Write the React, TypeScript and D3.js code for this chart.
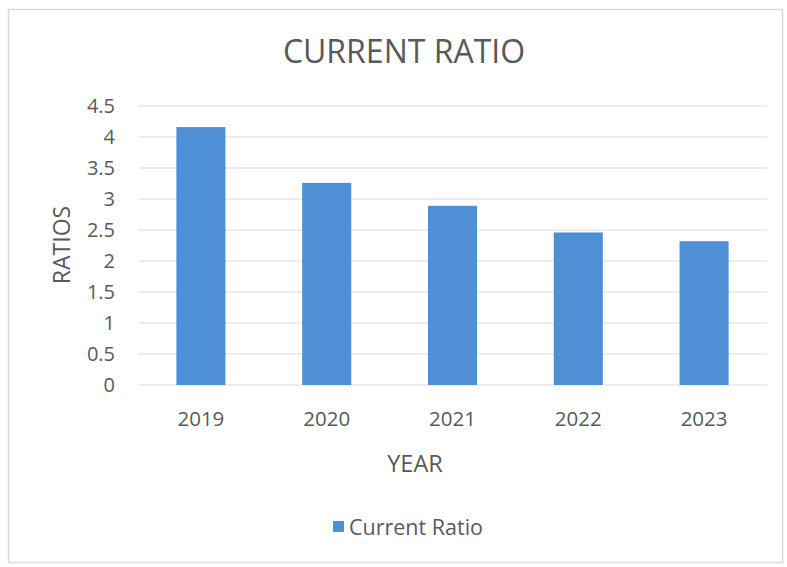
import React from "react";
import * as d3 from "d3";

const years = ["2019", "2020", "2021", "2022", "2023"];
const currentRatio = [4.16, 3.26, 2.89, 2.46, 2.32];
const yTicks = [0, 0.5, 1, 1.5, 2, 2.5, 3, 3.5, 4, 4.5];
const title = "CURRENT RATIO";
const xTitle = "YEAR";
const yTitle = "RATIOS";
const seriesName = "Current Ratio";

const W = 787;
const H = 567;
const FONT = "'Open Sans', 'Noto Sans', sans-serif";
const TEXT = "#595959";
const BAR = "#4f8fd6";

export default function App() {
  const x = d3
    .scaleBand<string>()
    .domain(years)
    .range([138, 767])
    .paddingInner(0.61)
    .paddingOuter(0.305);
  const y = d3.scaleLinear().domain([0, 4.5]).range([385, 106]);

  return (
    <svg
      width={W}
      height={H}
      style={{ position: "absolute", left: 0, top: 0, background: "#fff" }}
      fontFamily={FONT}
    >
      <rect x={0} y={0} width={W} height={H} fill="#fff" />
      <rect x={8.5} y={9.5} width={774} height={553} fill="none" stroke="#d9d9d9" strokeWidth={1.5} />
      <text x={404} y={63} textAnchor="middle" fontSize={32} fill={TEXT}>
        {title}
      </text>
      {yTicks.map((t) => (
        <g key={t}>
          <line x1={138} x2={767} y1={y(t)} y2={y(t)} stroke="#d9d9d9" strokeWidth={1} />
          <text x={115} y={y(t)} dy="0.35em" textAnchor="end" fontSize={20} fill={TEXT}>
            {t}
          </text>
        </g>
      ))}
      {years.map((yr, i) => (
        <g key={yr}>
          <rect
            x={x(yr)}
            y={y(currentRatio[i])}
            width={x.bandwidth()}
            height={y(0) - y(currentRatio[i])}
            fill={BAR}
          />
          <text
            x={(x(yr) as number) + x.bandwidth() / 2}
            y={419}
            dy="0.35em"
            textAnchor="middle"
            fontSize={20.5}
            fill={TEXT}
          >
            {yr}
          </text>
        </g>
      ))}
      <text x={415} y={464} dy="0.35em" textAnchor="middle" fontSize={23.5} fill={TEXT}>
        {xTitle}
      </text>
      <text
        transform={`translate(62,245) rotate(-90)`}
        dy="0.35em"
        textAnchor="middle"
        fontSize={23}
        fill={TEXT}
      >
        {yTitle}
      </text>
      <rect x={333} y={521} width={11} height={11} fill={BAR} />
      <text x={349} y={527} dy="0.35em" fontSize={21.5} fill={TEXT}>
        {seriesName}
      </text>
    </svg>
  );
}
